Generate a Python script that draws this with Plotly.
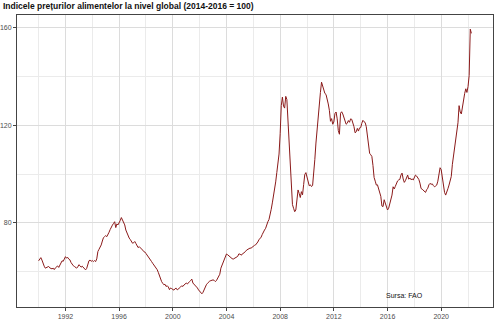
import plotly.graph_objects as go

years = list(range(1990, 2023))
ffpi_1990 = [64.5, 65.2, 65.8, 64.8, 63.1, 62.3, 61.5, 61.8, 62.0, 62.2, 61.6, 61.2]
ffpi_1991 = [61.2, 61.5, 60.9, 61.6, 61.9, 62.4, 61.8, 62.6, 63.5, 64.5, 64.3, 65.1]
ffpi_1992 = [66.2, 65.6, 65.9, 65.2, 64.9, 63.8, 62.9, 62.5, 62.2, 61.9, 61.5, 62.0]
ffpi_1993 = [62.9, 62.5, 61.9, 62.3, 61.7, 61.2, 60.8, 61.4, 62.6, 64.5, 64.8, 64.3]
ffpi_1994 = [64.6, 64.2, 64.6, 64.2, 65.3, 68.3, 69.2, 70.1, 71.0, 72.6, 74.0, 74.4]
ffpi_1995 = [74.8, 74.4, 75.1, 76.2, 77.3, 78.5, 79.1, 79.8, 80.5, 78.1, 79.6, 79.2]
ffpi_1996 = [79.9, 81.0, 82.2, 81.3, 80.5, 79.2, 77.1, 75.8, 74.9, 73.8, 73.2, 72.4]
ffpi_1997 = [71.7, 71.9, 72.4, 71.6, 70.5, 69.9, 70.3, 69.9, 69.5, 68.9, 68.3, 68.1]
ffpi_1998 = [67.5, 66.9, 66.4, 65.8, 65.1, 64.2, 63.5, 62.9, 62.2, 61.5, 60.9, 59.8]
ffpi_1999 = [58.4, 56.7, 56.0, 55.3, 54.7, 54.9, 54.0, 54.3, 53.8, 52.7, 53.4, 53.1]
ffpi_2000 = [52.7, 52.5, 53.1, 53.3, 52.6, 52.9, 53.4, 53.8, 54.3, 54.0, 54.6, 54.9]
ffpi_2001 = [55.4, 55.0, 55.8, 56.0, 56.5, 57.0, 55.4, 55.0, 54.6, 54.0, 53.4, 52.6]
ffpi_2002 = [52.0, 51.5, 51.0, 51.6, 52.8, 53.9, 54.7, 55.3, 56.0, 56.2, 56.4, 56.7]
ffpi_2003 = [56.7, 56.5, 56.0, 56.4, 57.2, 58.1, 59.0, 61.5, 62.8, 64.2, 65.5, 66.3]
ffpi_2004 = [67.3, 67.0, 66.5, 66.0, 65.6, 65.4, 65.2, 65.4, 65.7, 66.0, 66.3, 67.3]
ffpi_2005 = [67.3, 66.8, 67.1, 67.5, 67.9, 68.3, 68.9, 69.3, 69.5, 69.7, 69.7, 70.2]
ffpi_2006 = [70.5, 70.8, 71.0, 71.4, 72.2, 73.1, 73.6, 74.2, 75.3, 76.5, 77.1, 77.8]
ffpi_2007 = [79.5, 80.5, 81.4, 83.0, 85.6, 88.2, 90.6, 93.2, 96.8, 100.6, 104.5, 108.2]
ffpi_2008 = [116.5, 128.0, 131.5, 127.8, 127.0, 131.8, 130.5, 121.0, 113.5, 102.0, 92.5, 87.5]
ffpi_2009 = [86.0, 84.6, 85.3, 89.8, 93.5, 92.1, 90.4, 92.8, 91.5, 95.7, 99.8, 100.6]
ffpi_2010 = [98.7, 96.3, 95.2, 95.6, 94.9, 95.3, 99.4, 106.0, 112.7, 118.6, 123.4, 128.5]
ffpi_2011 = [133.4, 137.6, 136.1, 135.2, 133.0, 132.6, 131.0, 128.7, 126.1, 121.6, 122.7, 120.4]
ffpi_2012 = [121.3, 124.8, 125.4, 122.6, 117.8, 116.3, 124.9, 125.5, 124.6, 123.2, 121.6, 120.4]
ffpi_2013 = [120.8, 121.9, 121.2, 122.6, 122.4, 121.3, 119.4, 116.9, 117.3, 118.7, 117.6, 118.9]
ffpi_2014 = [119.0, 120.8, 122.0, 121.4, 121.1, 119.4, 116.4, 112.5, 108.5, 107.9, 107.2, 103.5]
ffpi_2015 = [98.6, 97.1, 95.5, 95.6, 93.8, 92.8, 90.9, 86.9, 86.7, 89.5, 88.0, 86.5]
ffpi_2016 = [85.3, 86.0, 87.8, 89.0, 91.4, 94.8, 93.9, 95.0, 96.4, 97.2, 97.6, 97.8]
ffpi_2017 = [99.6, 100.4, 98.0, 96.6, 97.3, 98.6, 99.6, 97.9, 98.4, 97.7, 98.0, 97.6]
ffpi_2018 = [98.9, 99.6, 99.2, 98.7, 97.8, 96.3, 94.1, 93.8, 93.2, 92.8, 92.5, 93.6]
ffpi_2019 = [94.2, 95.6, 96.2, 95.8, 96.0, 95.3, 94.8, 95.1, 95.5, 97.1, 100.0, 102.6]
ffpi_2020 = [101.8, 98.6, 95.0, 92.5, 91.4, 93.2, 94.0, 95.5, 97.6, 99.0, 104.0, 107.8]
ffpi_2021 = [112.0, 114.6, 117.5, 121.0, 128.0, 125.4, 124.6, 128.2, 129.6, 133.0, 134.9, 133.4]
ffpi_2022 = [135.8, 140.4, 159.3, 157.6]

yearly = [ffpi_1990, ffpi_1991, ffpi_1992, ffpi_1993, ffpi_1994, ffpi_1995, ffpi_1996,
          ffpi_1997, ffpi_1998, ffpi_1999, ffpi_2000, ffpi_2001, ffpi_2002, ffpi_2003,
          ffpi_2004, ffpi_2005, ffpi_2006, ffpi_2007, ffpi_2008, ffpi_2009, ffpi_2010,
          ffpi_2011, ffpi_2012, ffpi_2013, ffpi_2014, ffpi_2015, ffpi_2016, ffpi_2017,
          ffpi_2018, ffpi_2019, ffpi_2020, ffpi_2021, ffpi_2022]

x_vals, y_vals = [], []
for yr, vals in zip(years, yearly):
    for m, v in enumerate(vals):
        x_vals.append(yr + m / 12)
        y_vals.append(v)

x_ticks = [1992, 1996, 2000, 2004, 2008, 2012, 2016, 2020]
y_ticks = [80, 120, 160]

title = "Indicele prețurilor alimentelor la nivel global (2014-2016 = 100)"
source = "Sursa: FAO"

FONT = "Liberation Sans, Arial, sans-serif"

fig = go.Figure()
fig.add_trace(go.Scatter(x=x_vals, y=y_vals, mode="lines",
                         line=dict(color="#8B1A1A", width=1), showlegend=False,
                         hoverinfo="skip"))

axis_common = dict(showline=True, linecolor="#444444", linewidth=1, mirror=True,
                   ticks="outside", ticklen=3, tickcolor="#444444",
                   tickfont=dict(family=FONT, size=7, color="#4d4d4d"),
                   gridcolor="#dcdcdc", gridwidth=1, zeroline=False)

fig.update_xaxes(range=[1988.39, 2023.86], tickvals=x_ticks,
                 ticktext=[str(t) for t in x_ticks],
                 minor=dict(dtick=4, tick0=1990, showgrid=True, gridcolor="#ebebeb", ticks=""),
                 **axis_common)
fig.update_yaxes(range=[45.6, 165.1], tickvals=y_ticks,
                 ticktext=[str(t) for t in y_ticks],
                 minor=dict(dtick=40, tick0=60, showgrid=True, gridcolor="#ebebeb", ticks=""),
                 **axis_common)

fig.add_annotation(text=source, xref="paper", yref="paper", x=0.815, y=0.038,
                   showarrow=False, xanchor="center", yanchor="middle",
                   font=dict(family=FONT, size=7, color="#111111"))

fig.update_layout(
    width=500, height=320,
    margin=dict(l=17, r=7, t=15, b=13, autoexpand=False),
    paper_bgcolor="white", plot_bgcolor="white",
    title=dict(text="<b>" + title + "</b>", x=0.006, xanchor="left", y=0.981, yanchor="middle",
               font=dict(family=FONT, size=8.5, color="#111111")),
)

fig.write_html("out.html", config={"displayModeBar": False, "staticPlot": True},
               post_script="document.body.style.margin='0';")
